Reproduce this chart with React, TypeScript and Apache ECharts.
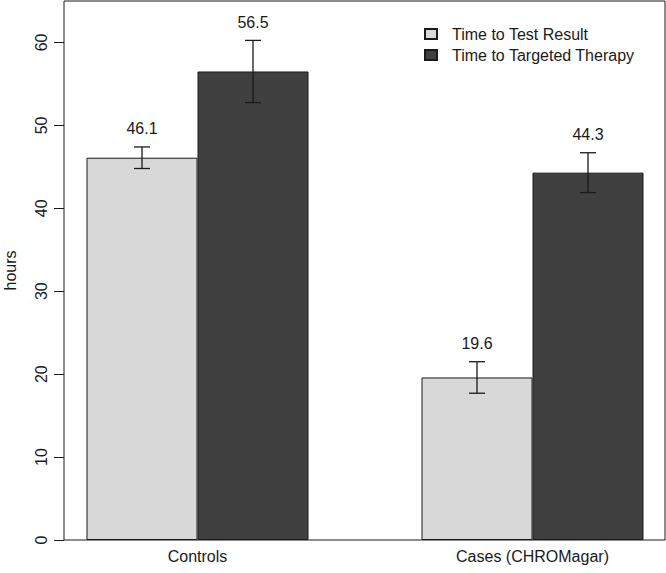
import React, { useEffect, useRef } from "react";
import * as echarts from "echarts";

const categories = ["Controls", "Cases (CHROMagar)"];
const seriesNames = ["Time to Test Result", "Time to Targeted Therapy"];
const testResult = [46.1, 19.6];
const targetedTherapy = [56.5, 44.3];
const testResultErr = [1.3, 1.9];
const targetedTherapyErr = [3.75, 2.4];
const yTicks = [0, 10, 20, 30, 40, 50, 60];
const yMax = 65;

const FONT = "'Liberation Sans', Arial, Helvetica, sans-serif";
const INK = "#1a1a1a";
const LIGHT = "#d8d8d8";
const DARK = "#404040";
const BAR_W = 111;

export default function App() {
  const ref = useRef<HTMLDivElement>(null);
  useEffect(() => {
    document.body.style.margin = "0";
    if (!ref.current) return;
    const chart = echarts.init(ref.current, undefined, { renderer: "svg" });

    const errData: any[] = [];
    [testResult, targetedTherapy].forEach((vals, s) => {
      const errs = s === 0 ? testResultErr : targetedTherapyErr;
      vals.forEach((v, i) => errData.push([i, v, errs[i], s]));
    });

    const option: any = {
      animation: false,
      textStyle: { fontFamily: FONT },
      grid: [
        {
          left: 30, right: -34, top: 1, bottom: 33,
          containLabel: false, outerBoundsMode: "none",
        },
        {
          left: 64, right: 1, top: 1, bottom: 33,
          containLabel: false, outerBoundsMode: "none",
          show: true, borderColor: INK, borderWidth: 1,
          backgroundColor: "transparent", z: 10,
        },
      ],
      xAxis: [
        {
          type: "category", gridIndex: 0, data: categories,
          axisLine: { show: false }, axisTick: { show: false },
          axisLabel: { fontSize: 16, color: INK, margin: 8, fontFamily: FONT },
        },
        { type: "value", gridIndex: 1, show: false, min: 0, max: 1 },
      ],
      yAxis: [
        { type: "value", gridIndex: 0, min: 0, max: yMax, show: false },
        {
          type: "value", gridIndex: 1, min: 0, max: yMax,
          name: "hours", nameLocation: "middle", nameGap: 46,
          nameTextStyle: { fontSize: 16, color: INK, fontFamily: FONT },
          axisLine: { show: false },
          splitLine: { show: false },
          axisTick: { show: true, length: 10, lineStyle: { color: INK }, customValues: yTicks },
          axisLabel: {
            rotate: 90, margin: 15, fontSize: 16, color: INK, fontFamily: FONT,
            customValues: yTicks,
          },
        },
      ],
      legend: {
        data: seriesNames,
        orient: "vertical",
        icon: "rect",
        left: 419, top: 21,
        itemWidth: 12, itemHeight: 10, itemGap: 5,
        textStyle: { fontSize: 16, color: INK, fontFamily: FONT, padding: [0, 0, 0, 10] },
      },
      series: [
        {
          name: seriesNames[0], type: "bar", xAxisIndex: 0, yAxisIndex: 0,
          data: testResult, barWidth: BAR_W, barGap: "0%",
          itemStyle: { color: LIGHT, borderColor: INK, borderWidth: 1 },
        },
        {
          name: seriesNames[1], type: "bar", xAxisIndex: 0, yAxisIndex: 0,
          data: targetedTherapy, barWidth: BAR_W, barGap: "0%",
          itemStyle: { color: DARK, borderColor: INK, borderWidth: 1 },
        },
        {
          name: "errors", type: "custom", xAxisIndex: 0, yAxisIndex: 0,
          data: errData, encode: { x: 0, y: 1 }, z: 5,
          renderItem: (params: any, api: any) => {
            const ci = api.value(0);
            const v = api.value(1);
            const e = api.value(2);
            const s = api.value(3);
            const base = api.coord([ci, v]);
            const x = base[0] + (s === 0 ? -1 : 1) * BAR_W / 2;
            const yTop = api.coord([ci, v + e])[1];
            const yBot = api.coord([ci, v - e])[1];
            const cap = 8;
            const ls = { stroke: INK, lineWidth: 1.3 };
            return {
              type: "group",
              children: [
                { type: "line", shape: { x1: x, y1: yTop, x2: x, y2: yBot }, style: ls },
                { type: "line", shape: { x1: x - cap, y1: yTop, x2: x + cap, y2: yTop }, style: ls },
                { type: "line", shape: { x1: x - cap, y1: yBot, x2: x + cap, y2: yBot }, style: ls },
                {
                  type: "text",
                  style: {
                    text: v.toFixed(1), x, y: yTop - 10,
                    textAlign: "center", textVerticalAlign: "bottom",
                    fontSize: 16, fill: INK, fontFamily: FONT,
                  },
                },
              ],
            };
          },
        },
      ],
    };
    chart.setOption(option);
    return () => chart.dispose();
  }, []);
  return <div ref={ref} style={{ width: 666, height: 573 }} />;
}
